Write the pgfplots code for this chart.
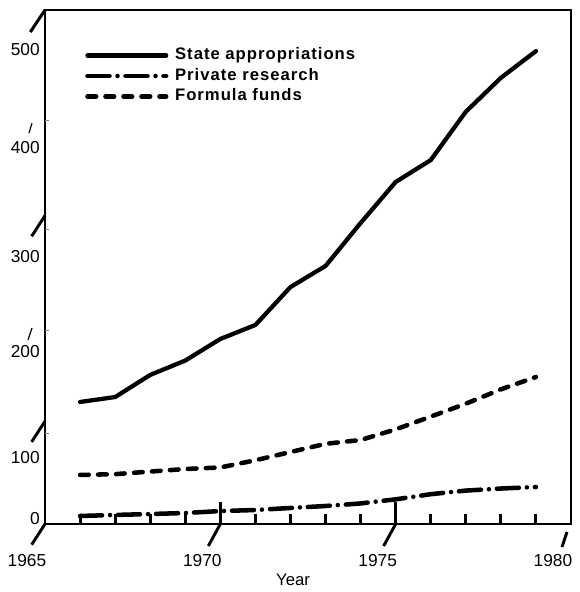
\documentclass[border=0pt]{standalone}
\usepackage{fontspec}
\setmainfont{Liberation Sans}
\usepackage{pgfplots}
\usepackage{pgfplotstable}
\pgfplotsset{compat=1.18}

\pgfplotstableread{
year val
1966 118.7
1967 123.5
1968 145
1969 159
1970 180
1971 193.6
1972 230.5
1973 251
1974 292.8
1975 332.7
1976 354
1977 401
1978 434
1979 460
}\stateapp

\pgfplotstableread{
year val
1966 7.8
1967 8.8
1968 9.7
1969 10.7
1970 12.6
1971 13.6
1972 15.6
1973 17.5
1974 20
1975 24
1976 29
1977 32.5
1978 34.5
1979 36
}\privres

\pgfplotstableread{
year val
1966 47.7
1967 48.5
1968 51
1969 53.5
1970 55
1971 62
1972 70
1973 78
1974 81.7
1975 92
1976 104.5
1977 117
1978 131
1979 143
}\formulafunds

\begin{document}
\begin{tikzpicture}
\path[use as bounding box] (-33.75pt,-51pt) rectangle (400.5pt,393pt);
\begin{axis}[
  scale only axis, width=394.5pt, height=385.5pt,
  xmin=0, xmax=15, ymin=0, ymax=500,
  clip=false,
  axis line style={line width=2.2pt},
  tick pos=left, tick align=inside,
  xtick={0,5,10,15},
  xticklabels={1965,1970,1975,1980},
  minor xtick={1,...,14},
  ytick={5.8,64.2,167.3,259.7,365.8,462},
  yticklabels={0,100,200,300,400,500},
  major tick style={draw=none},
  minor tick length=7.5pt,
  minor tick style={line width=2.2pt, black},
  xticklabel style={font=\fontsize{13}{15}\selectfont, anchor=north, inner sep=0pt, xshift=-13.5pt, yshift=-22.5pt},
  yticklabel style={font=\fontsize{13}{15}\selectfont, anchor=east, inner sep=0pt, xshift=-3.75pt},
  xlabel={Year},
  xlabel style={font=\fontsize{12.5}{15}\selectfont, at={(rel axis cs:0.4715,0)}, anchor=center, yshift=-42pt},
  legend cell align=left,
  legend style={draw=none, fill=none, inner sep=0pt, at={(rel axis cs:0.076,0.927)}, anchor=north west,
    font=\fontsize{12.5}{15}\selectfont\bfseries\addfontfeature{LetterSpace=6},
    nodes={inner sep=0pt, text height=9pt, text depth=2.5pt}, row sep=3.9pt,
    /tikz/every odd column/.append style={column sep=5pt}},
  legend image code/.code={\draw[#1] (0pt,0pt) -- (59pt,0pt);},
]
\addplot[line width=3.2pt, line join=round, line cap=round] table[x expr=\thisrow{year}-1965, y=val] {\stateapp};
\addlegendentry{State appropriations}
\addplot[line width=3.4pt, line cap=round, dash pattern=on 16.5pt off 6pt on 0pt off 6pt] table[x expr=\thisrow{year}-1965, y=val] {\privres};
\addlegendentry{Private research}
\addplot[line width=3.4pt, line cap=round, dash pattern=on 6.5pt off 7pt] table[x expr=\thisrow{year}-1965, y=val] {\formulafunds};
\addlegendentry{Formula funds}

% axis break slashes and extra marks of the scanned original
\draw[line width=2.2pt] (axis cs:0,0) -- ++(-10pt,-15.5pt);
\draw[line width=2.2pt] (axis cs:0,100) -- ++(-10pt,-15.5pt);
\draw[line width=2.2pt] (axis cs:0,300) -- ++(-10pt,-15.5pt);
\draw[line width=2.2pt] (axis cs:0,500) -- ++(-11pt,-16.5pt);
\draw[line width=2.2pt] (axis cs:5,0) -- ++(-9pt,-16.5pt);
\draw[line width=2.2pt] (axis cs:10,0) -- ++(-9pt,-16.5pt);
\draw[line width=2.2pt] (axis cs:15,0) ++(-3pt,-6pt) -- ++(-3.75pt,-11.25pt);
\draw[line width=0.9pt] (axis cs:0,190.7) ++(-9.75pt,0pt) -- ++(-3pt,-9pt);
\draw[line width=0.9pt] (axis cs:0,390) ++(-9.75pt,0pt) -- ++(-2.25pt,-7.5pt);
\draw[line width=2.2pt] (axis cs:5,0) -- ++(0pt,16.5pt);
\draw[line width=2.2pt] (axis cs:10,0) -- ++(0pt,16.5pt);
\draw[line width=0.6pt, gray] (axis cs:0,88.5) -- ++(3pt,0pt);
\draw[line width=0.6pt, gray] (axis cs:0,188) -- ++(3pt,0pt);
\draw[line width=0.6pt, gray] (axis cs:0,287) -- ++(3pt,0pt);
\draw[line width=0.6pt, gray] (axis cs:0,393) -- ++(3pt,0pt);
\end{axis}
\end{tikzpicture}
\end{document}
